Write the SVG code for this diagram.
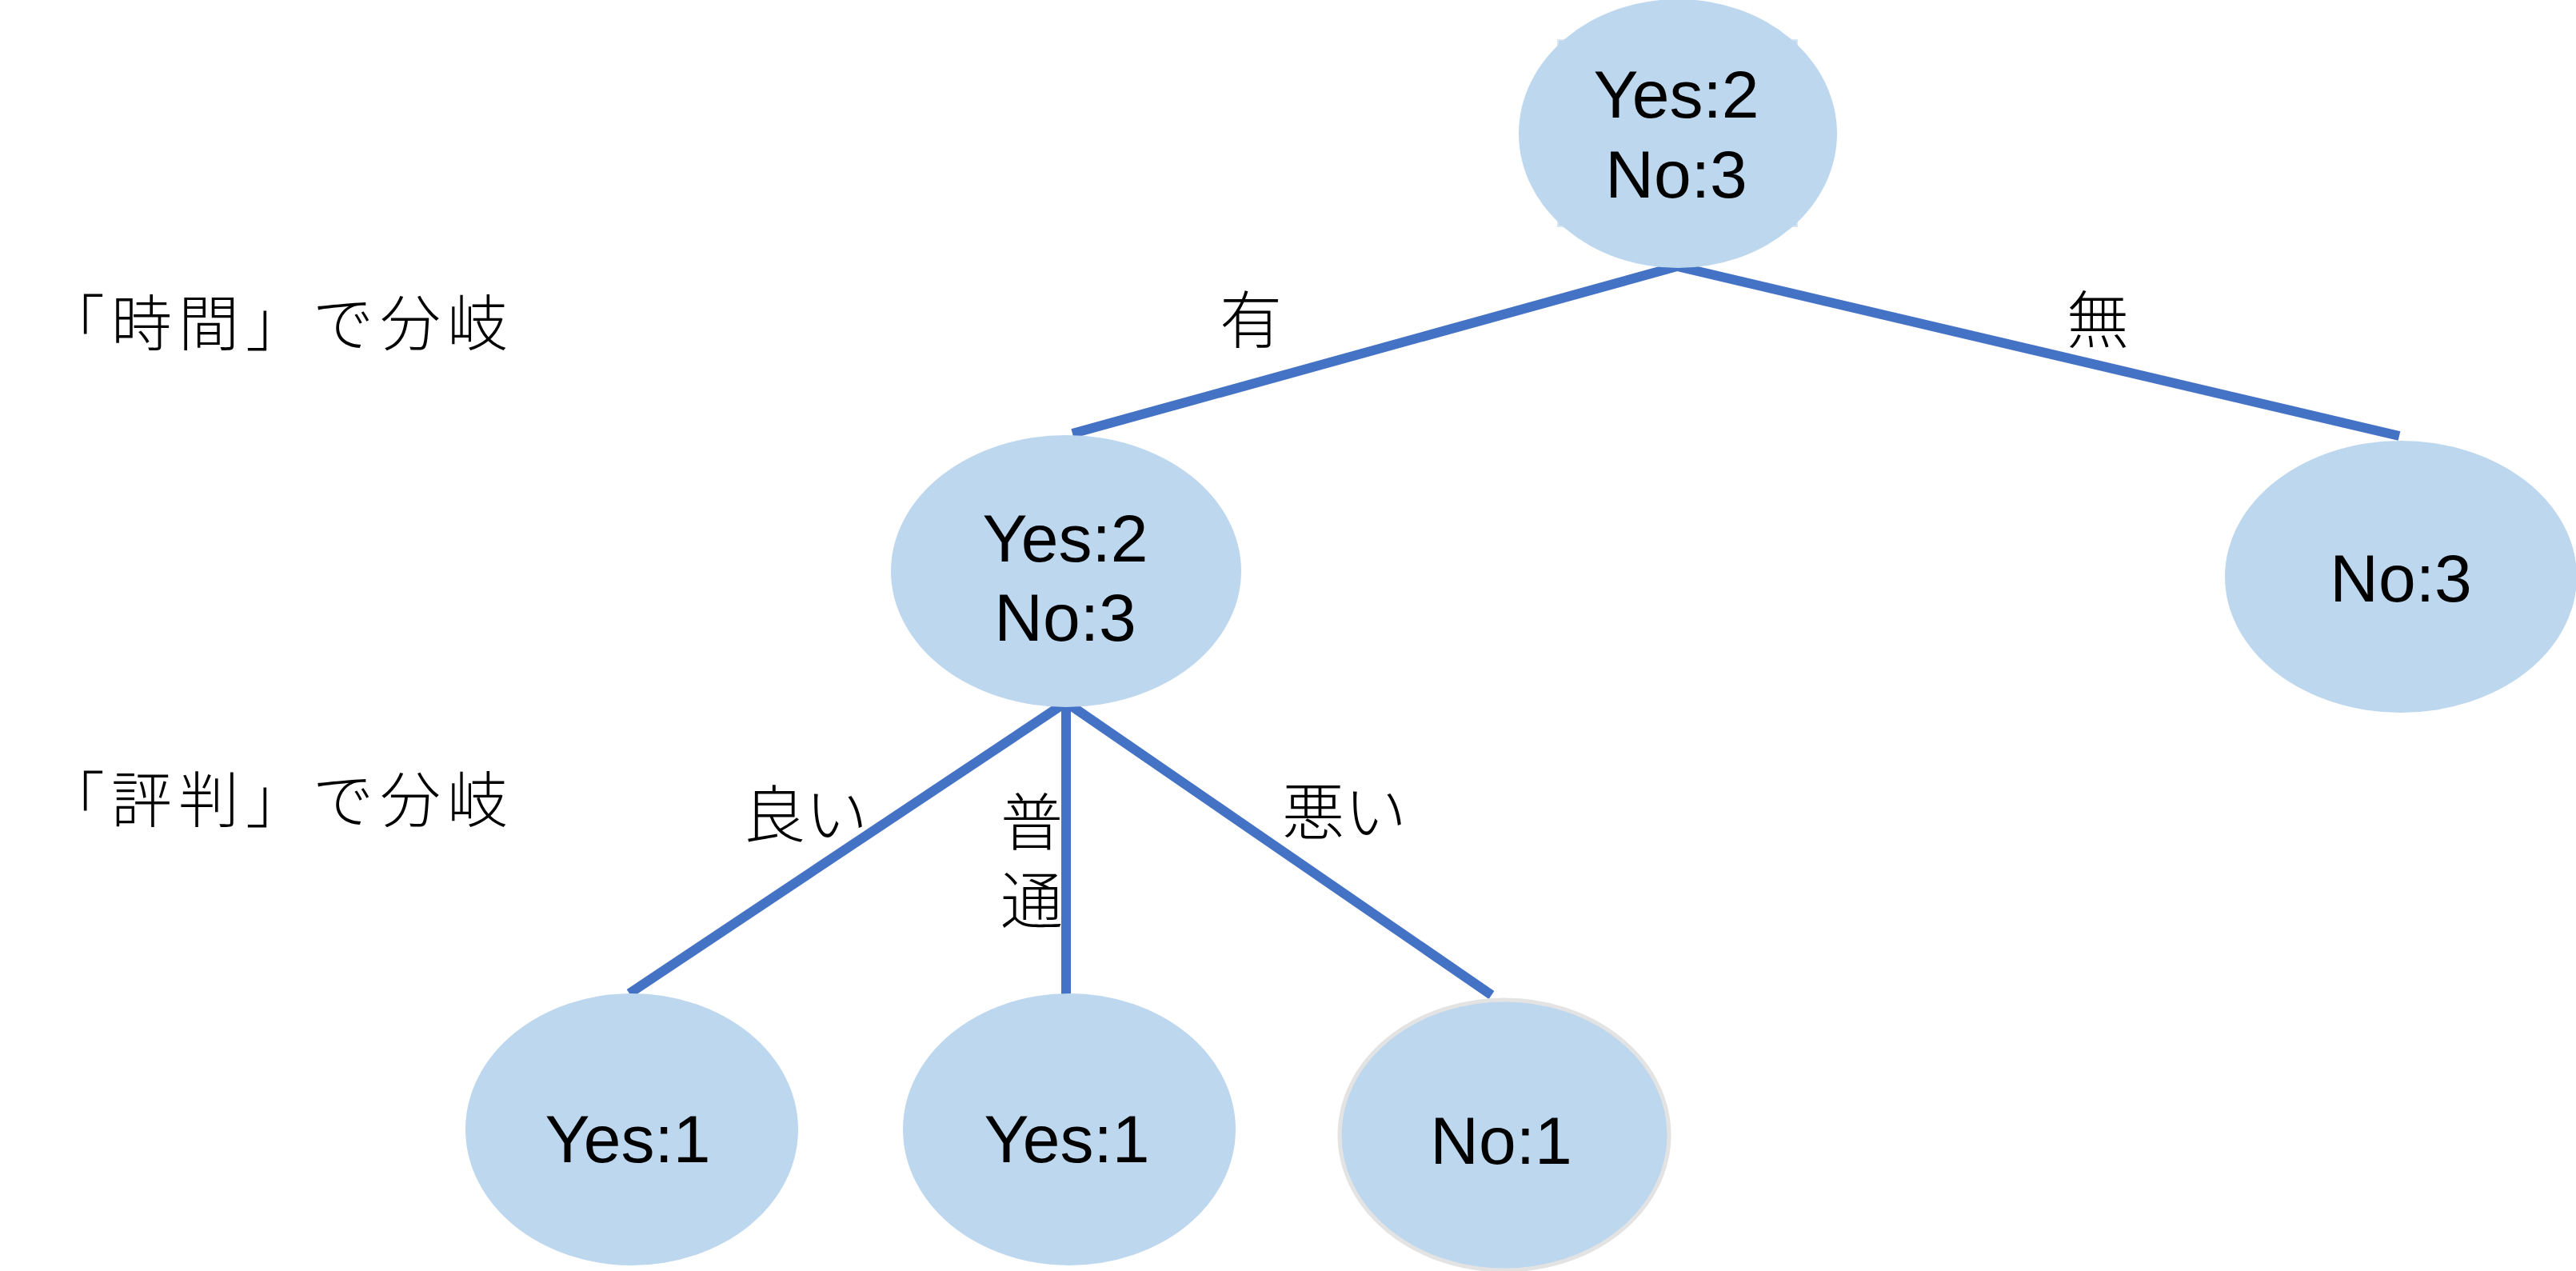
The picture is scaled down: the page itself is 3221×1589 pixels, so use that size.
<svg xmlns="http://www.w3.org/2000/svg" width="3221" height="1589" viewBox="0 0 3221 1589">
<style>
.node{fill:#BDD7EE;}
.lbl{font-family:"Liberation Sans",Arial,sans-serif;font-size:84px;fill:#000;text-anchor:middle;}
.jp{font-family:"Noto Sans CJK JP","Noto Sans CJK SC",sans-serif;font-size:78px;font-weight:300;fill:#000;}
.side{font-size:76px;letter-spacing:8px;}
.vert{writing-mode:vertical-rl;letter-spacing:20px;}
.edge{stroke:#4472C4;stroke-width:12;fill:none;stroke-linecap:butt;}
</style>
<rect width="3221" height="1589" fill="#FFFFFF"/>
<g id="connectors">
<line class="edge" x1="2097" y1="333" x2="1341" y2="542"/>
<line class="edge" x1="2097" y1="333" x2="3000" y2="545"/>
<line class="edge" x1="1333" y1="878" x2="787" y2="1242"/>
<line class="edge" x1="1333" y1="875" x2="1333" y2="1244" stroke-width="13"/>
<line class="edge" x1="1333" y1="878" x2="1865" y2="1244"/>
</g>
<g id="root">
<rect x="1948" y="50" width="299" height="233" fill="#BDD7EE" stroke="#D6E6F5" stroke-width="2"/>
<ellipse class="node" cx="2098" cy="167" rx="199" ry="168"/>
<text class="lbl" x="2096" y="147">Yes:2</text>
<text class="lbl" x="2096" y="247">No:3</text>
</g>
<g id="node-left">
<ellipse class="node" cx="1333" cy="714" rx="219" ry="170"/>
<text class="lbl" x="1332" y="702">Yes:2</text>
<text class="lbl" x="1332" y="801">No:3</text>
</g>
<g id="node-right">
<ellipse class="node" cx="3002" cy="721" rx="220" ry="170"/>
<text class="lbl" x="3002" y="752">No:3</text>
</g>
<g id="leaf-good">
<ellipse class="node" cx="790" cy="1412" rx="208" ry="170"/>
<text class="lbl" x="785" y="1453">Yes:1</text>
</g>
<g id="leaf-normal">
<ellipse class="node" cx="1337" cy="1412" rx="208" ry="170"/>
<text class="lbl" x="1334" y="1453">Yes:1</text>
</g>
<g id="leaf-bad">
<ellipse class="node" cx="1881" cy="1419" rx="206" ry="169" stroke="#E3E3E3" stroke-width="5"/>
<text class="lbl" x="1877" y="1455">No:1</text>
</g>
<g id="labels">
<text class="jp side" x="55" y="432">「時間」で分岐</text>
<text class="jp side" x="55" y="1028">「評判」で分岐</text>
<text class="jp" x="1564" y="429" text-anchor="middle">有</text>
<text class="jp" x="2623" y="429" text-anchor="middle">無</text>
<text class="jp" x="929" y="1047">良い</text>
<text class="jp vert" x="1290" y="988">普通</text>
<text class="jp" x="1603" y="1044">悪い</text>
</g>
</svg>
